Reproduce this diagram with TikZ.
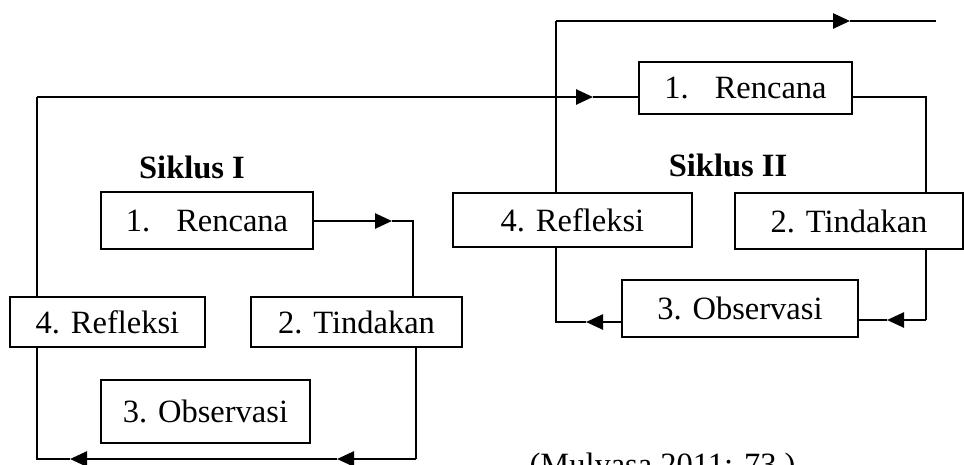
\documentclass[tikz,border=0pt]{standalone}
\usepackage{fontspec}
\setmainfont{Liberation Serif}
\usetikzlibrary{arrows.meta}

\begin{document}
\begin{tikzpicture}[x=1pt, y=-1pt,
  stage/.style = {draw, line width=1.5pt, inner sep=0pt, font=\fontsize{32.5}{36}\selectfont},
  title/.style = {font=\fontsize{32.5}{36}\selectfont\bfseries},
  lin/.style = {line width=1.5pt},
  heavy/.style = {line width=2.6pt, -{Triangle[length=17pt, width=15pt]}}]
\useasboundingbox (0,0) rectangle (964,464);
% Siklus I
\node[title] (s1) at (192,167) {Siklus I};
\node[stage, minimum width=212pt, minimum height=57pt] (r1) at (207,220.5) {1.\hspace{0.8em}Rencana};
\node[stage, minimum width=211pt, minimum height=50pt] (t1) at (356.5,322) {2. Tindakan};
\node[stage, minimum width=209pt, minimum height=63pt] (o1) at (205.5,411.5) {3. Observasi};
\node[stage, minimum width=195pt, minimum height=50pt] (f1) at (107.5,322) {4. Refleksi};
% Siklus II
\node[title] (s2) at (728,165) {Siklus II};
\node[stage, minimum width=213pt, minimum height=52pt] (r2) at (745.5,88) {1.\hspace{0.8em}Rencana};
\node[stage, minimum width=228pt, minimum height=56pt] (t2) at (849,221) {2. Tindakan};
\node[stage, minimum width=236pt, minimum height=57pt] (o2) at (740,308.5) {3. Observasi};
\node[stage, minimum width=239pt, minimum height=54pt] (f2) at (572.5,220) {4. Refleksi};
\node[anchor=base west, font=\fontsize{32.5}{36}\selectfont] (src) at (526,475) {(Mulyasa 2011: 73 )};
% bends and arrow tips
\coordinate (a1) at (392,221);
\coordinate (k1) at (413,221);
\coordinate (k2) at (416,459);
\coordinate (a2) at (337,459);
\coordinate (a3) at (70,459);
\coordinate (k3) at (37,459);
\coordinate (k4) at (37,97);
\coordinate (a4) at (593,97);
\coordinate (k5) at (926,97);
\coordinate (k6) at (926,320);
\coordinate (a6) at (887,320);
\coordinate (a7) at (586,322);
\coordinate (k7) at (556,322);
\coordinate (k8) at (556,21);
\coordinate (a8) at (850,21);
\coordinate (e8) at (936,21);
% Siklus I
\draw[heavy] (r1.east |- a1) -- (a1);
\draw[lin] (a1) -- (k1) -- (k1 |- t1.north);
\draw[lin] (t1.south -| k2) -- (k2);
\draw[heavy] (k2) -- (a2);
\draw[heavy] (a2) -- (a3);
\draw[lin] (a3) -- (k3) -- (k3 |- f1.south);
\draw[lin] (f1.north -| k4) -- (k4);
\draw[heavy] (k4) -- (a4);
\draw[lin] (a4) -- (r2.west |- a4);
% Siklus II
\draw[lin] (r2.east |- k5) -- (k5) -- (k5 |- t2.north);
\draw[lin] (t2.south -| k6) -- (k6);
\draw[heavy] (k6) -- (a6);
\draw[lin] (a6) -- (o2.east |- a6);
\draw[heavy] (o2.west |- a7) -- (a7);
\draw[lin] (a7) -- (k7) -- (k7 |- f2.south);
\draw[lin] (f2.north -| k8) -- (k8);
\draw[heavy] (k8) -- (a8);
\draw[lin] (a8) -- (e8);
\end{tikzpicture}
\end{document}
